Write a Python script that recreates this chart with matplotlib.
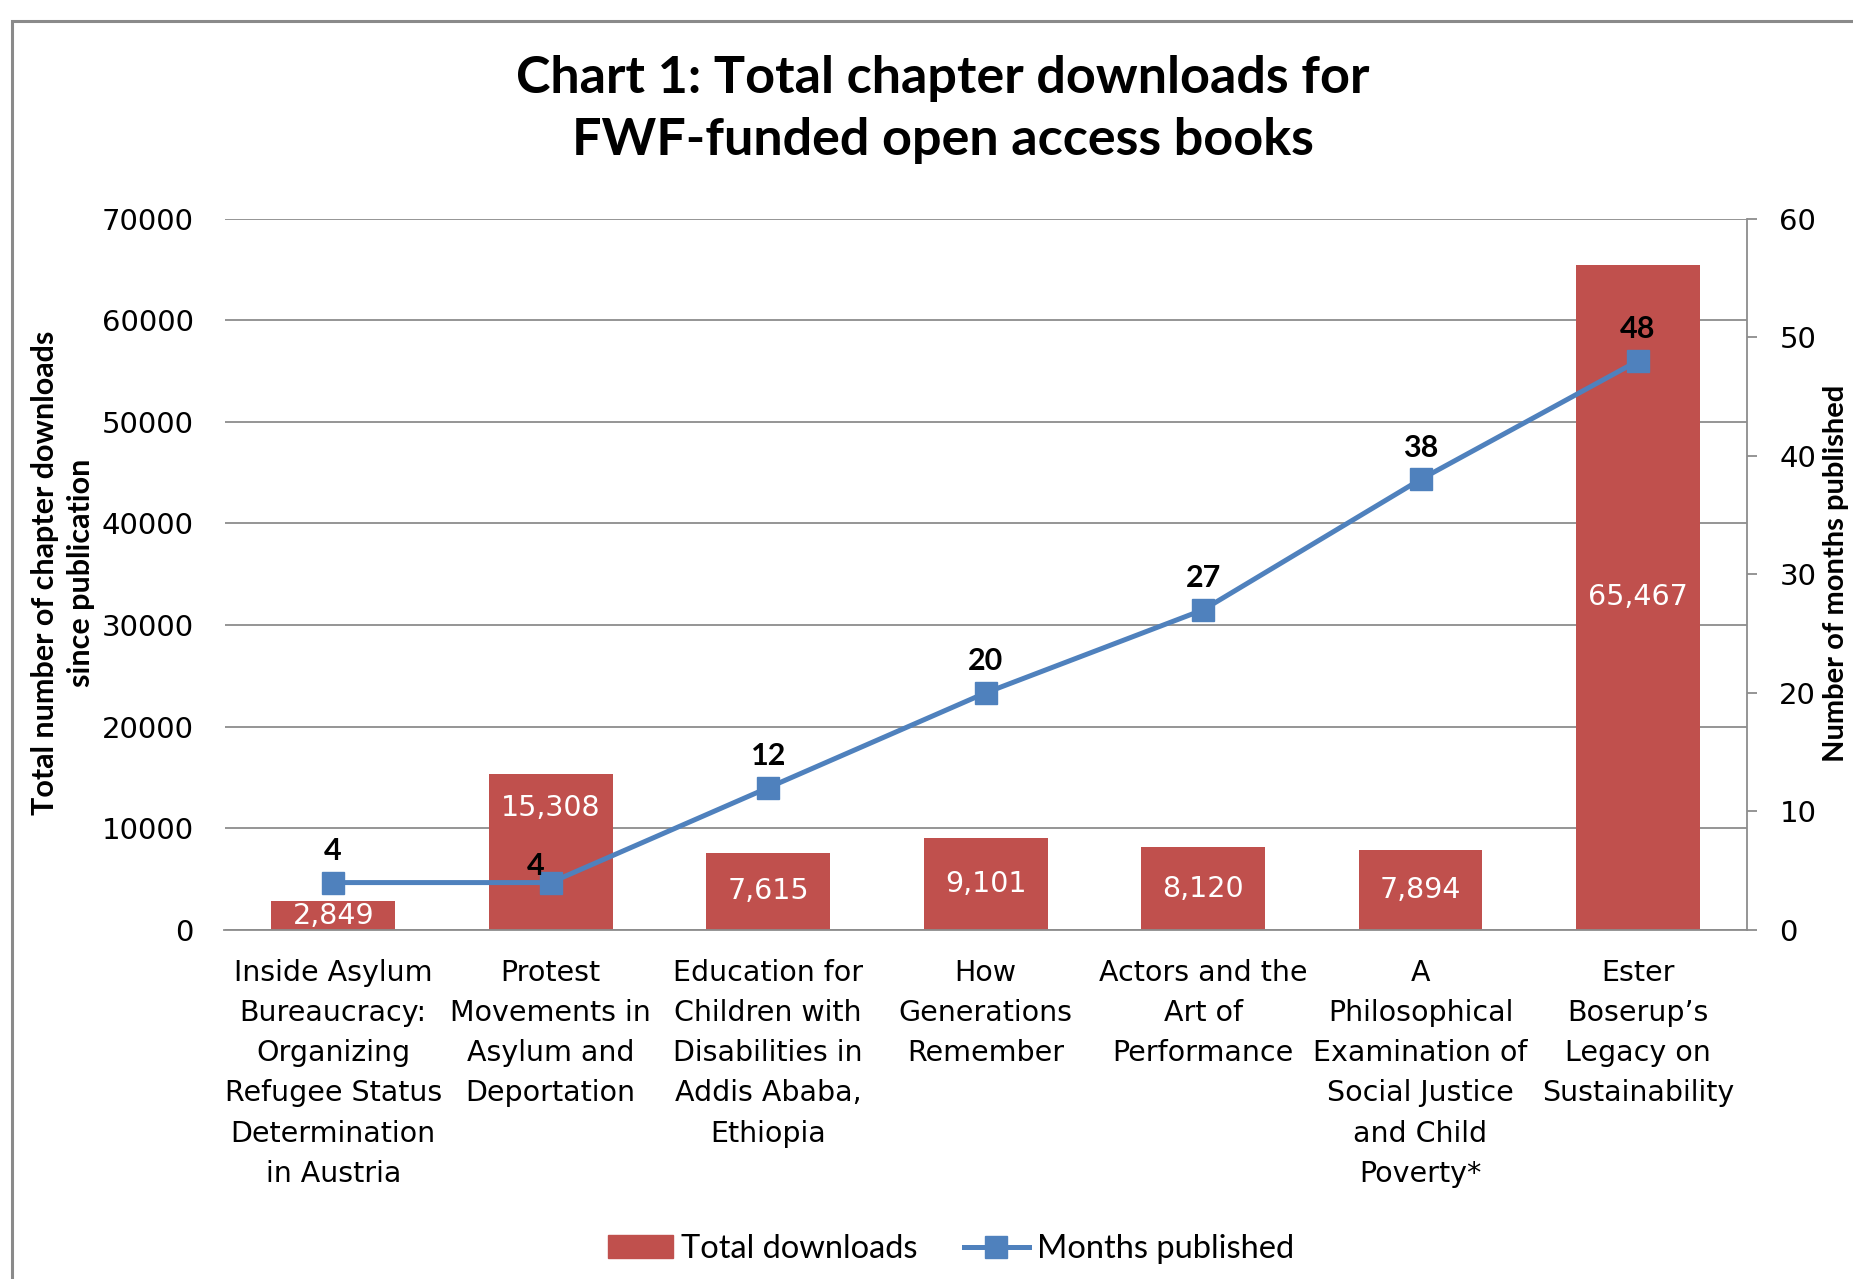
import matplotlib
matplotlib.use("Agg")
import matplotlib.pyplot as plt
from matplotlib.patches import Rectangle
from matplotlib.lines import Line2D
from matplotlib.patches import Patch
import numpy as np

categories = [
    "Inside Asylum\nBureaucracy:\nOrganizing\nRefugee Status\nDetermination\nin Austria",
    "Protest\nMovements in\nAsylum and\nDeportation",
    "Education for\nChildren with\nDisabilities in\nAddis Ababa,\nEthiopia",
    "How\nGenerations\nRemember",
    "Actors and the\nArt of\nPerformance",
    "A\nPhilosophical\nExamination of\nSocial Justice\nand Child\nPoverty*",
    "Ester\nBoserup\u2019s\nLegacy on\nSustainability",
]
downloads = [2849, 15308, 7615, 9101, 8120, 7894, 65467]
months = [4, 4, 12, 20, 27, 38, 48]
left_ticks = [0, 10000, 20000, 30000, 40000, 50000, 60000, 70000]
right_ticks = [0, 10, 20, 30, 40, 50, 60]

BAR = "#C0504D"
LINE = "#4F81BD"
GRID = "#8C8C8C"
TITLE_FONT = "Lato"
TICK_FONT = "DejaVu Sans"

W, H = 1853, 1279
fig = plt.figure(figsize=(W / 100, H / 100), dpi=100)

# chart frame
fig.patches.append(Rectangle((12 / W, -0.1), 1.2, (H - 21) / H + 0.1,
                             transform=fig.transFigure, fill=False,
                             edgecolor="#8A8A8A", linewidth=2.2))

ax = fig.add_axes([224.5 / W, 349 / H, (1746.7 - 224.5) / W, (930 - 218.6) / H])
x = np.arange(len(categories))
bars = ax.bar(x, downloads, width=0.57, color=BAR, zorder=2)
ax.set_xlim(-0.5, len(categories) - 0.5)
ax.set_ylim(0, 70000)
ax.set_yticks(left_ticks)
ax.set_yticklabels([str(v) for v in left_ticks], fontsize=21, family=TICK_FONT)
ax.yaxis.grid(True, color=GRID, linewidth=1.3, zorder=0)
ax.set_axisbelow(True)
for s in ["left", "top", "right"]:
    ax.spines[s].set_visible(False)
ax.spines["bottom"].set_color(GRID)
ax.spines["bottom"].set_linewidth(1.3)
ax.tick_params(axis="y", length=0, pad=22)
ax.tick_params(axis="x", length=0, pad=21)
ax.set_xticks(x)
ax.set_xticklabels(categories, fontsize=20.5, family=TICK_FONT, linespacing=1.55,
                   va="top", ha="center")

# bar labels (white, centered)
for i, v in enumerate(downloads):
    if i == 1:
        ax.annotate(f"{v:,}", (x[i], v), xytext=(0, -24), textcoords="offset points",
                    ha="center", va="center", color="white", fontsize=20.5,
                    family=TICK_FONT, zorder=5)
    else:
        ax.text(x[i], v / 2, f"{v:,}", ha="center", va="center", color="white",
                fontsize=20.5, family=TICK_FONT, zorder=5)

ax2 = ax.twinx()
ax2.set_ylim(0, 60)
ax2.set_yticks(right_ticks)
ax2.set_yticklabels([str(v) for v in right_ticks], fontsize=21, family=TICK_FONT)
for s in ["left", "top", "bottom"]:
    ax2.spines[s].set_visible(False)
ax2.spines["right"].set_color(GRID)
ax2.spines["right"].set_linewidth(1.3)
ax2.tick_params(axis="y", length=7.5, width=1.3, color=GRID, pad=16)
ax2.plot(x, months, color=LINE, linewidth=3.6, marker="s", markersize=16,
         markerfacecolor=LINE, markeredgecolor=LINE, zorder=4)
for i, m in enumerate(months):
    if i == 1:
        off = (-11, 12)
    else:
        off = (0, 23)
    ax2.annotate(str(m), (x[i], m), xytext=off, textcoords="offset points",
                 ha="center", va="center", fontsize=22, fontweight="bold",
                 family=TITLE_FONT, color="black", zorder=6)

# titles and axis labels
fig.text(943 / W, 1 - 79 / H, "Chart 1: Total chapter downloads for",
         ha="center", va="center", fontsize=37.5, fontweight="bold", family=TITLE_FONT)
fig.text(943 / W, 1 - 141 / H, "FWF-funded open access books",
         ha="center", va="center", fontsize=37.5, fontweight="bold", family=TITLE_FONT)
fig.text(63 / W, 1 - 573 / H, "Total number of chapter downloads\nsince publication",
         ha="center", va="center", rotation=90, fontsize=22, fontweight="bold",
         family=TITLE_FONT, linespacing=1.35)
fig.text(1836 / W, 1 - 573 / H, "Number of months published",
         ha="center", va="center", rotation=90, fontsize=21, fontweight="bold",
         family=TITLE_FONT)

handles = [Patch(facecolor=BAR, edgecolor=BAR),
           Line2D([0], [0], color=LINE, linewidth=3.6, marker="s", markersize=16)]
fig.legend(handles, ["Total downloads", "Months published"], loc="center",
           bbox_to_anchor=(951 / W, 30 / H), ncol=2, frameon=False,
           prop={"family": TITLE_FONT, "size": 23.5}, handlelength=2.0,
           handletextpad=0.25, columnspacing=1.4)

fig.savefig("out.png", dpi=100)
